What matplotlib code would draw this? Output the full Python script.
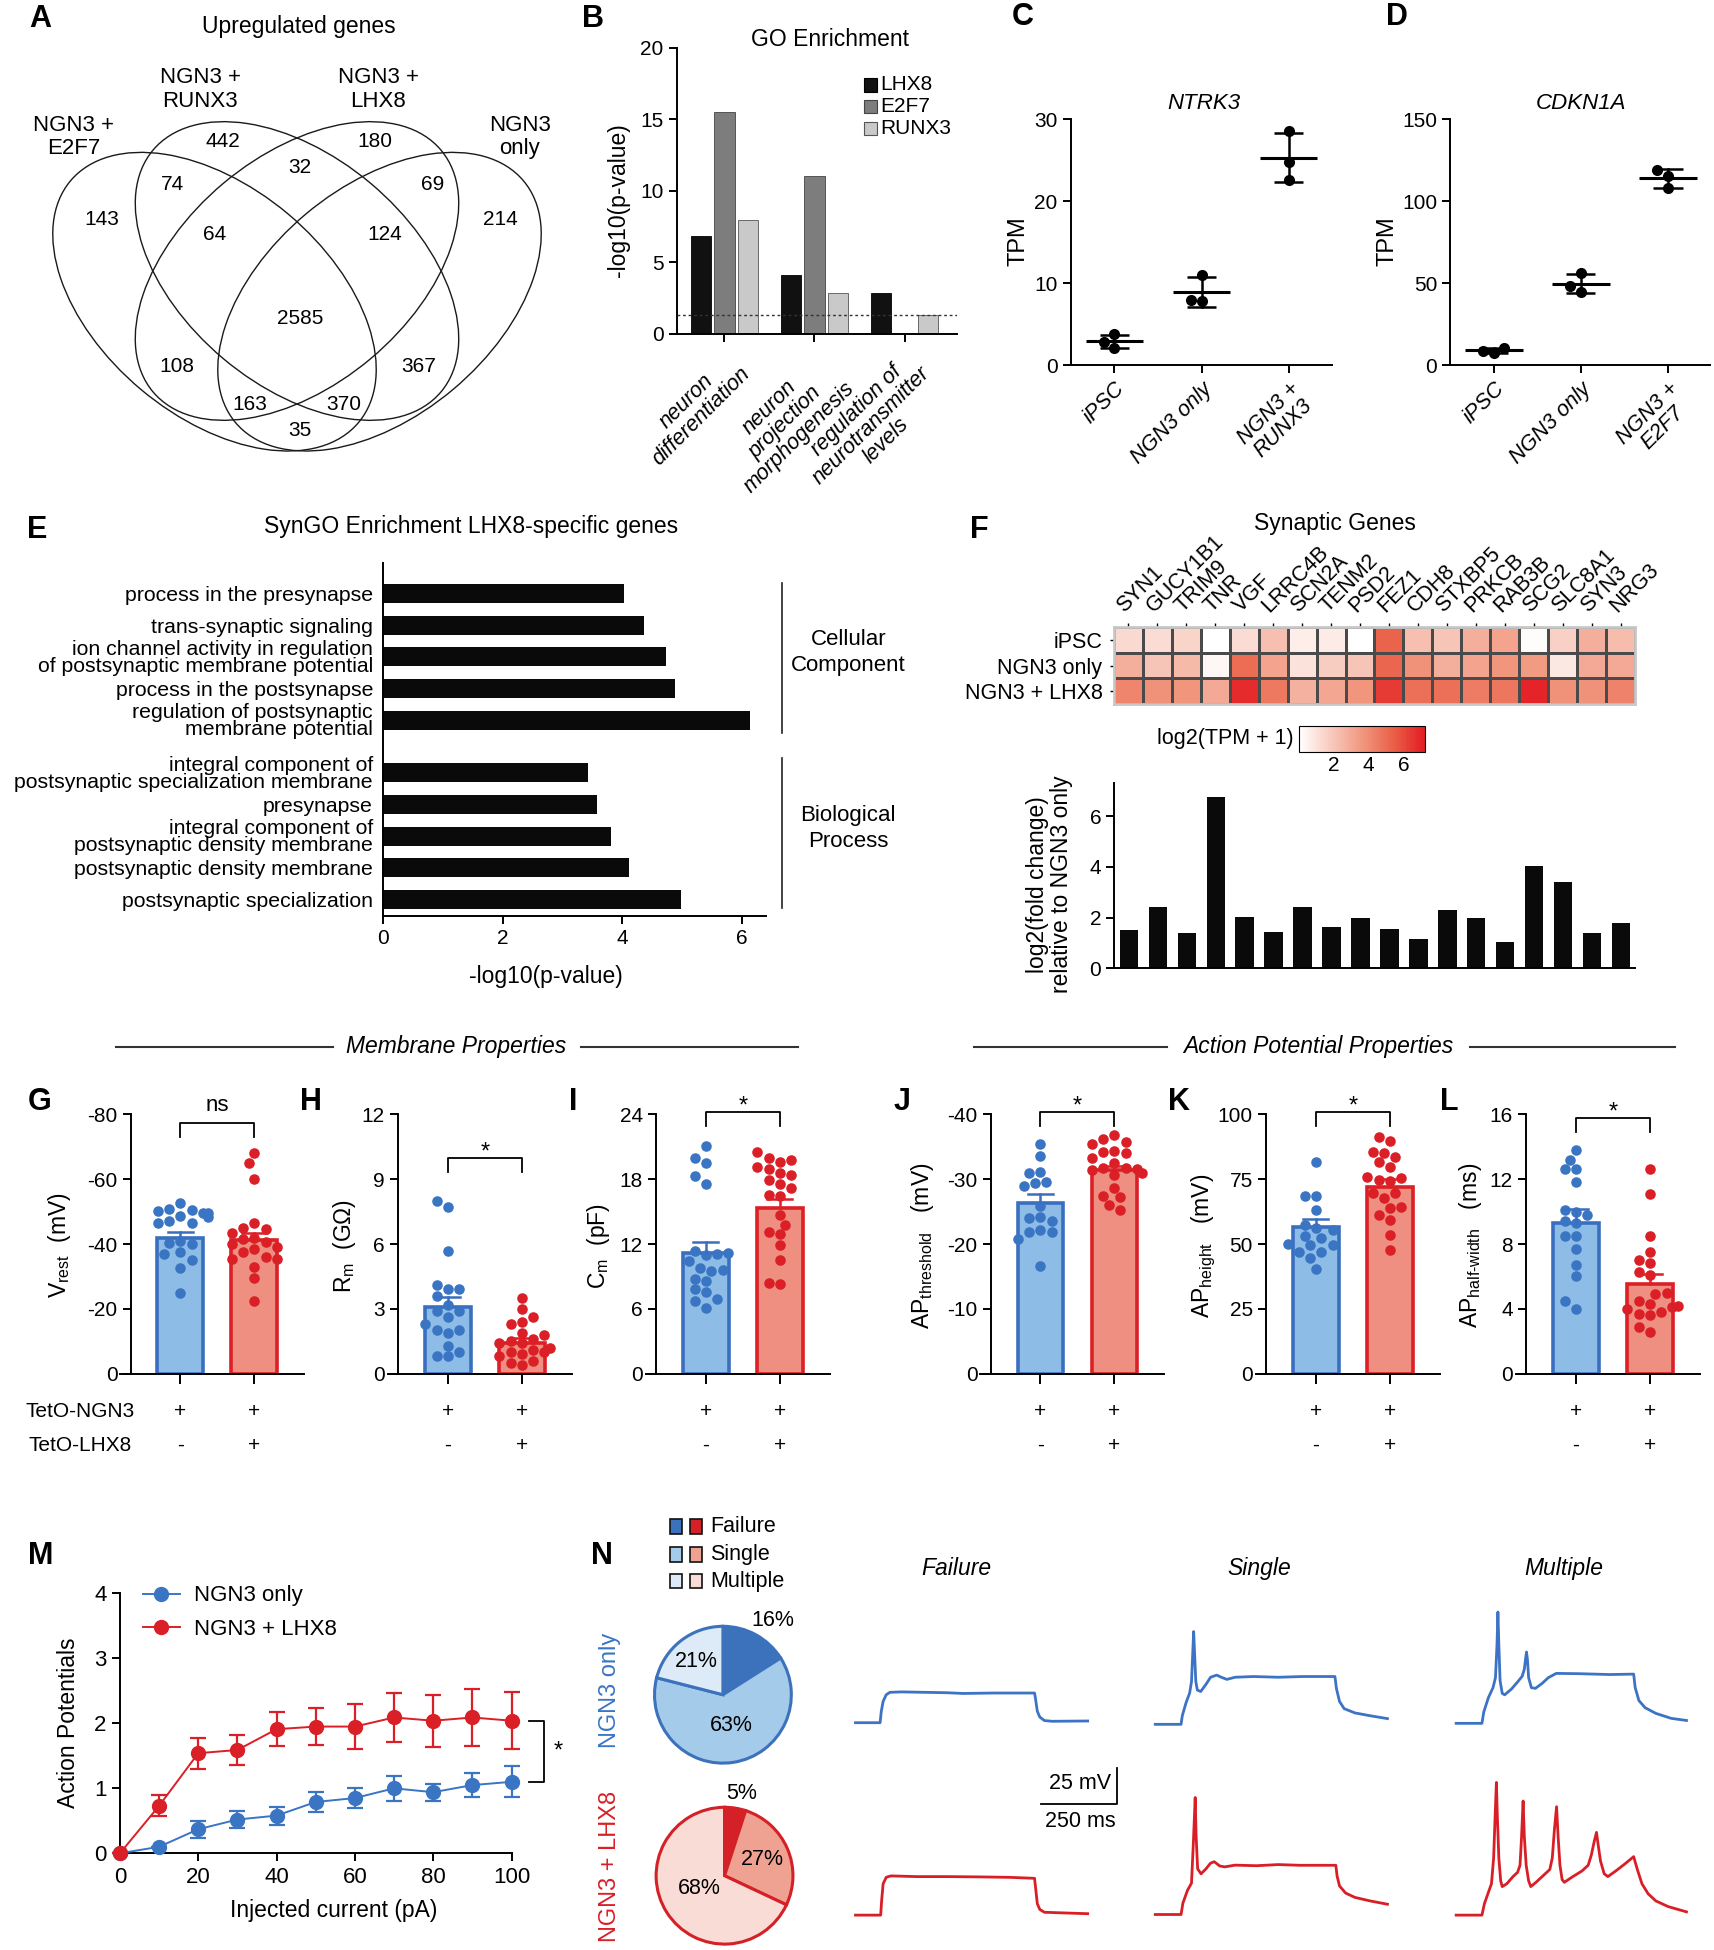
import numpy as np
import matplotlib
matplotlib.use('Agg')
import matplotlib.pyplot as plt
from matplotlib import font_manager
from matplotlib.patches import Ellipse, Rectangle
from matplotlib.lines import Line2D
from matplotlib.colors import LinearSegmentedColormap

# ---------------- data ----------------
# A: Venn of upregulated genes
venn_sets = ['NGN3 +\nE2F7', 'NGN3 +\nRUNX3', 'NGN3 +\nLHX8', 'NGN3\nonly']
venn_counts = [143, 442, 180, 214, 74, 32, 69, 64, 124, 2585, 108, 367, 163, 370, 35]

# B: GO enrichment
go_terms = ['neuron\ndifferentiation', 'neuron\nprojection\nmorphogenesis',
            'regulation of\nneurotransmitter\nlevels']
go_lhx8 = [6.87, 4.12, 2.84]
go_e2f7 = [15.53, 11.04, 0.0]
go_runx3 = [7.96, 2.84, 1.33]
go_cutoff = 1.3

# C / D: TPM, three replicates per group
ntrk3_groups = ['iPSC', 'NGN3 only', 'NGN3 +\nRUNX3']
ntrk3_tpm = [[3.74, 2.10, 2.85], [11.0, 7.8, 7.9], [28.6, 24.8, 22.6]]
cdkn1a_groups = ['iPSC', 'NGN3 only', 'NGN3 +\nE2F7']
cdkn1a_tpm = [[10.6, 8.8, 7.4], [56.0, 48.4, 44.4], [119.0, 115.2, 107.9]]

# E: SynGO enrichment
syngo_terms = ['process in the presynapse', 'trans-synaptic signaling',
               'ion channel activity in regulation\nof postsynaptic membrane potential',
               'process in the postsynapse',
               'regulation of postsynaptic\nmembrane potential',
               'integral component of\npostsynaptic specialization membrane',
               'presynapse',
               'integral component of\npostsynaptic density membrane',
               'postsynaptic density membrane', 'postsynaptic specialization']
syngo_logp = [4.03, 4.36, 4.73, 4.87, 6.13, 3.42, 3.57, 3.81, 4.11, 4.97]
syngo_category = ['Cellular\nComponent', 'Biological\nProcess']

# F: synaptic genes
syn_genes = ['SYN1', 'GUCY1B1', 'TRIM9', 'TNR', 'VGF', 'LRRC4B', 'SCN2A', 'TENM2', 'PSD2',
             'FEZ1', 'CDH8', 'STXBP5', 'PRKCB', 'RAB3B', 'SCG2', 'SLC8A1', 'SYN3', 'NRG3']
syn_rows = ['iPSC', 'NGN3 only', 'NGN3 + LHX8']
expr_ipsc = [1.3, 1.2, 1.5, 0.0, 1.2, 2.2, 0.6, 0.7, 0.0, 5.3, 2.2, 2.0, 2.8, 3.2, 0.1, 1.6, 2.8, 2.3]
expr_ngn3 = [2.8, 2.0, 2.4, 0.3, 5.0, 3.2, 1.0, 1.7, 2.0, 5.2, 3.8, 2.8, 3.2, 3.7, 3.5, 0.8, 3.0, 3.0]
expr_lhx8 = [4.2, 3.8, 3.7, 3.0, 6.8, 4.6, 2.7, 3.1, 3.7, 6.4, 4.9, 4.9, 4.5, 4.7, 7.0, 3.8, 3.8, 4.3]
fold_change = [1.51, 2.43, 1.38, 6.76, 2.01, 1.43, 2.43, 1.64, 1.97, 1.55, 1.16, 2.30, 1.98,
               1.04, 4.04, 3.39, 1.38, 1.77]

# G-L: patch clamp, NGN3 only (blue) vs NGN3 + LHX8 (red)
vrest_ngn3 = [-52.5, -50.8, -50.5, -50.2, -49.7, -49.5, -48.5, -48.2, -47.0, -46.5, -46.5,
              -41.0, -40.2, -40.0, -37.5, -37.0, -35.0, -32.5, -25.0]
vrest_lhx8 = [-68.0, -65.0, -60.0, -46.5, -45.0, -44.5, -43.5, -42.0, -41.5, -40.5, -40.0,
              -39.0, -38.5, -37.5, -36.0, -35.5, -35.5, -33.0, -29.5, -22.5]
rm_ngn3 = [8.0, 7.7, 5.7, 4.1, 3.9, 3.9, 3.6, 3.2, 2.9, 2.9, 2.6, 2.3, 2.0, 1.9, 2.0, 1.0, 0.8,
           0.8, 1.3]
rm_lhx8 = [3.5, 3.0, 2.6, 2.4, 2.3, 1.9, 1.8, 1.6, 1.5, 1.4, 1.4, 1.2, 1.1, 1.0, 1.0, 0.9, 0.8,
           0.6, 0.5, 0.4]
cm_ngn3 = [21.1, 20.0, 19.5, 18.3, 17.6, 11.4, 11.2, 11.1, 11.0, 10.4, 9.8, 9.6, 9.5, 8.8, 8.6,
           7.8, 7.6, 6.9, 6.7, 6.1]
cm_lhx8 = [20.5, 20.0, 19.8, 19.6, 19.1, 18.9, 18.6, 18.4, 17.9, 17.6, 17.2, 16.5, 16.4, 14.7,
           13.8, 13.1, 12.9, 11.9, 10.5, 8.4, 8.3]
thr_ngn3 = [-35.4, -33.6, -31.1, -30.9, -29.6, -29.4, -29.0, -25.9, -24.2, -24.0, -23.6, -22.1,
            -21.9, -21.8, -20.7, -16.6]
thr_lhx8 = [-36.8, -36.2, -35.8, -35.5, -34.3, -34.2, -34.0, -33.2, -32.5, -31.8, -31.7, -31.6,
            -31.4, -31.0, -30.6, -28.7, -27.4, -27.2, -26.0, -25.2]
height_ngn3 = [81.5, 68.5, 68.4, 63.3, 57.5, 56.0, 55.5, 53.0, 52.5, 50.0, 49.8, 49.5, 47.0,
               46.8, 44.5, 40.4]
height_lhx8 = [91.4, 89.7, 85.6, 85.2, 83.4, 81.7, 79.6, 75.7, 75.4, 74.8, 74.4, 69.7, 69.5,
               67.6, 64.2, 63.8, 61.2, 59.3, 53.5, 47.7]
hw_ngn3 = [13.8, 13.2, 12.6, 12.6, 11.8, 10.1, 10.0, 9.8, 9.4, 9.3, 8.5, 8.5, 7.7, 6.7, 6.0,
           4.5, 4.0]
hw_lhx8 = [12.6, 11.1, 8.5, 7.5, 7.0, 6.8, 6.3, 6.1, 5.0, 4.9, 4.5, 4.3, 4.2, 4.1, 4.0, 3.8,
           3.7, 3.6, 2.9, 2.6]
# bar heights (mean) and SEM as drawn
ephys_mean = {'G': (-41.9, -41.2), 'H': (3.10, 1.40), 'I': (11.14, 15.30),
              'J': (-26.4, -31.4), 'K': (56.7, 71.9), 'L': (9.27, 5.51)}
ephys_sem = {'G': (1.95, 2.3), 'H': (0.46, 0.23), 'I': (1.08, 0.83),
             'J': (1.34, 0.6), 'K': (2.8, 3.1), 'L': (0.86, 0.62)}
ephys_sig = {'G': 'ns', 'H': '*', 'I': '*', 'J': '*', 'K': '*', 'L': '*'}
teto_ngn3 = ['+', '+']
teto_lhx8 = ['-', '+']

# M: action potentials vs injected current (mean, SEM)
current_pA = [0, 10, 20, 30, 40, 50, 60, 70, 80, 90, 100]
ap_ngn3 = [0.0, 0.10, 0.37, 0.52, 0.58, 0.79, 0.85, 1.00, 0.94, 1.05, 1.10]
ap_ngn3_sem = [0.0, 0.0, 0.13, 0.13, 0.14, 0.15, 0.15, 0.19, 0.13, 0.19, 0.24]
ap_lhx8 = [0.0, 0.73, 1.54, 1.59, 1.91, 1.95, 1.95, 2.09, 2.04, 2.09, 2.04]
ap_lhx8_sem = [0.0, 0.16, 0.24, 0.23, 0.26, 0.29, 0.34, 0.38, 0.40, 0.44, 0.44]

# N: firing categories (%) and example traces (ms, mV above baseline)
fire_classes = ['Failure', 'Single', 'Multiple']
fire_ngn3 = [16, 63, 21]
fire_lhx8 = [5, 27, 68]
trace_fail_ngn3 = [(0, 0), (80, 0), (84, 8), (90, 15), (100, 19.6), (112, 21.3), (150, 21.6),
                   (300, 21.0), (350, 20.5), (450, 20.8), (583, 20.8), (586, 17), (592, 8),
                   (600, 4), (615, 1.5), (640, 1.0), (756, 1.2)]
trace_single_ngn3 = [(0, 0), (84, 0), (88, 6), (100, 15), (112, 22), (118, 30), (122, 50),
                     (125, 65), (128, 50), (132, 30), (137, 24), (148, 23), (165, 28),
                     (180, 33), (200, 34.5), (215, 33), (233, 31.5), (260, 33), (320, 33.5),
                     (400, 33), (480, 33.5), (585, 33.5), (590, 25), (600, 16), (615, 11),
                     (650, 8), (700, 6), (756, 4)]
trace_multi_ngn3 = [(0, 0), (84, 0), (90, 8), (105, 18), (120, 25), (128, 32), (133, 55),
                    (136, 78), (139, 55), (143, 30), (150, 21), (158, 20), (180, 24),
                    (200, 29), (215, 33), (222, 38), (226, 45), (229, 50), (232, 45),
                    (236, 32), (245, 25), (258, 24.5), (280, 28), (300, 32), (326, 35),
                    (400, 34.8), (500, 34.2), (578, 34.5), (583, 25), (595, 16), (615, 11),
                    (650, 7), (700, 3.5), (750, 2)]
trace_fail_lhx8 = [(0, 0), (82, 0), (85, 10), (90, 22), (100, 26.5), (115, 27.5), (200, 27.0),
                   (300, 27.0), (400, 26.8), (500, 26.5), (583, 25.8), (586, 20), (592, 8),
                   (600, 4), (615, 2), (756, 1)]
trace_single_lhx8 = [(0, 0), (84, 0), (90, 8), (105, 17), (118, 22), (124, 50), (130, 82),
                     (133, 55), (138, 32), (149, 28.5), (165, 32), (180, 36), (192, 37),
                     (210, 34), (226, 33.4), (260, 34.6), (330, 34.2), (400, 35), (470, 34.5),
                     (588, 34.5), (592, 27), (600, 20), (620, 15), (650, 12), (700, 9.5),
                     (756, 7.2)]
trace_multi_lhx8 = [(0, 0), (84, 0), (92, 8), (105, 16), (115, 22), (122, 40), (127, 70),
                    (131, 93), (134, 70), (139, 40), (145, 24), (150, 20), (165, 22),
                    (185, 27), (200, 30), (208, 35), (213, 55), (218, 80), (222, 55),
                    (228, 35), (236, 24), (243, 20), (260, 23), (285, 28), (305, 32),
                    (313, 40), (320, 60), (327, 76), (332, 55), (338, 35), (345, 25),
                    (352, 23), (380, 27), (410, 31), (430, 35), (440, 42), (450, 52),
                    (457, 58), (462, 50), (470, 38), (482, 29), (494, 27), (520, 31),
                    (550, 36), (578, 41), (590, 32), (605, 22), (625, 15), (650, 10),
                    (690, 6), (750, 2.3)]
scale_ms, scale_mv = 250, 25

# ---------------- style ----------------
names = {f.name for f in font_manager.fontManager.ttflist}
REG = 'Liberation Sans' if 'Liberation Sans' in names else 'DejaVu Sans'
plt.rcParams.update({
    'font.size': 15, 'axes.linewidth': 1.4, 'axes.unicode_minus': False,
    'xtick.major.width': 1.4, 'ytick.major.width': 1.4,
    'xtick.major.size': 6, 'ytick.major.size': 6,
    'xtick.labelsize': 15, 'ytick.labelsize': 15,
    'mathtext.fontset': 'custom', 'mathtext.rm': REG,
    'mathtext.it': REG + ':italic', 'mathtext.bf': REG + ':bold',
})
plt.rcParams['font.family'] = [REG, 'DejaVu Sans']

BLUE = '#3a75c4'
BLUE_EDGE = '#3a6fbf'
BLUE_BAR = '#8dbce6'
RED = '#da1f26'
RED_EDGE = '#dd1f26'
RED_BAR = '#ee8f82'

W, H = 1714, 1950
S = W / 1378.0   # positions below were measured on a 1378 px wide copy

fig = plt.figure(figsize=(W / 100, H / 100), dpi=100)


def box(x0, y0, x1, y1):
    return [x0 * S / W, 1 - y1 * S / H, (x1 - x0) * S / W, (y1 - y0) * S / H]


def put(x, y, s, **kw):
    kw.setdefault('ha', 'center')
    kw.setdefault('va', 'center')
    return fig.text(x * S / W, 1 - y * S / H, s, **kw)


def fline(xs, ys, **kw):
    fig.add_artist(Line2D([x * S / W for x in xs], [1 - y * S / H for y in ys],
                          transform=fig.transFigure, **kw))


def frect(x, y, w, h, **kw):
    fig.add_artist(Rectangle((x * S / W, 1 - (y + h) * S / H), w * S / W, h * S / H,
                             transform=fig.transFigure, **kw))


def swarm(vals, ppu_y, ppu_x, diam, max_half):
    # simple deterministic beeswarm, computed in screen pixels
    ys = np.asarray(vals, float) * ppu_y
    steps = np.arange(0, max_half + 1e-6, diam * 0.5)
    cands = sorted(set(list(steps) + list(-steps)), key=lambda c: (abs(c), c))
    offs = np.zeros(len(ys))
    placed = []
    for i in np.argsort(ys):
        for c in cands:
            if all((c - px) ** 2 + (ys[i] - py) ** 2 >= (0.95 * diam) ** 2 for px, py in placed):
                offs[i] = c
                break
        else:
            offs[i] = cands[-1]
        placed.append((offs[i], ys[i]))
    return offs / ppu_x


def clean(ax):
    ax.spines['top'].set_visible(False)
    ax.spines['right'].set_visible(False)


# panel letters
for letter, lx, ly in [('A', 32, 15), ('B', 477, 15), ('C', 822, 14), ('D', 1123, 14),
                       ('E', 30, 426), ('F', 787, 426), ('G', 32, 886), ('H', 250, 886),
                       ('I', 461, 886), ('J', 725, 886), ('K', 948, 886), ('L', 1165, 886),
                       ('M', 33, 1251), ('N', 484, 1251)]:
    put(lx, ly, letter, fontsize=22, fontweight='bold')

# ---------------- A: Venn ----------------
axv = fig.add_axes([0, 1 - 500 / H, 600 / W, 460 / H])
axv.set_xlim(0, 600)
axv.set_ylim(500, 40)
axv.axis('off')
for (cx, cy), ang in [((214.5, 301.7), 40), ((297, 271), 40), ((297, 271), -40),
                      ((379.5, 301.7), -40)]:
    axv.add_patch(Ellipse((cx, cy), 376, 229, angle=ang, fill=False, lw=1.0, ec='#1a1a1a'))
venn_xy = [(102, 220), (223, 142), (375, 142), (500, 220), (173, 185), (300, 168), (433, 185),
           (215, 235), (385, 235), (300, 318), (177, 367), (419, 367), (250, 405), (344, 405),
           (300, 430)]
for n, (tx, ty) in zip(venn_counts, venn_xy):
    axv.text(tx, ty, str(n), ha='center', va='center', fontsize=15)
for lab, (tx, ty) in zip(venn_sets, [(59, 110), (161, 72), (304, 72), (418, 110)]):
    put(tx, ty, lab, fontsize=16, linespacing=1.15)
put(240, 21, 'Upregulated genes', fontsize=16.5)

# ---------------- B: GO enrichment ----------------
axb = fig.add_axes(box(544.2, 38.3, 769.4, 268.5))
clean(axb)
gx = np.arange(len(go_terms))
bw = 0.224
axb.bar(gx - 0.258, go_lhx8, bw, color='#111111', ec='#000000', lw=0.6, zorder=2)
axb.bar(gx, go_e2f7, bw, color='#7d7d7d', ec='#444444', lw=0.6, zorder=2)
axb.bar(gx + 0.258, go_runx3, bw, color='#c9c9c9', ec='#555555', lw=0.6, zorder=2)
axb.axhline(go_cutoff, color='#333333', lw=1.0, ls=(0, (2, 2)), zorder=3)
axb.set_xlim(-0.528, 2.583)
axb.set_ylim(0, 20)
axb.set_yticks([0, 5, 10, 15, 20])
axb.set_xticks(gx)
axb.set_xticklabels(go_terms, rotation=45, ha='right', va='top', rotation_mode='anchor',
                    style='italic', fontsize=15.5, multialignment='center', linespacing=1.0)
axb.tick_params(axis='x', pad=4)
put(497, 161, '-log10(p-value)', rotation=90, fontsize=16.5)
put(667, 32, 'GO Enrichment', fontsize=16.5)
for lab, col, ec, ry in [('LHX8', '#111111', '#000000', 68.3), ('E2F7', '#7d7d7d', '#444444', 85.7),
                         ('RUNX3', '#c9c9c9', '#555555', 103.2)]:
    frect(695, ry - 5.5, 10, 11, fc=col, ec=ec, lw=0.8)
    put(708, ry, lab, ha='left', fontsize=15)

# ---------------- C / D: TPM dot plots ----------------
for groups, reps, title, (ax0, ax1), ymax, yt, tx, ylx in [
        (ntrk3_groups, ntrk3_tpm, 'NTRK3', (861, 1071), 30, [0, 10, 20, 30], 968, 818.5),
        (cdkn1a_groups, cdkn1a_tpm, 'CDKN1A', (1166, 1375), 150, [0, 50, 100, 150], 1271, 1115.6)]:
    ax = fig.add_axes(box(ax0, 96, ax1, 293.5))
    clean(ax)
    ax.set_xlim(-0.5, (ax1 - ax0) / 70 - 0.5)
    ax.set_ylim(0, ymax)
    ax.set_yticks(yt)
    ax.set_xticks(range(3))
    ax.set_xticklabels(groups, rotation=45, ha='right', va='top', rotation_mode='anchor',
                       style='italic', fontsize=15.5, multialignment='center', linespacing=1.0)
    ppu_y = 197.5 / ymax
    for i, r in enumerate(reps):
        r = np.asarray(r)
        m, sd = r.mean(), r.std(ddof=1)
        ax.plot([i - 0.33, i + 0.33], [m, m], color='k', lw=2.2, zorder=3, solid_capstyle='butt')
        ax.plot([i, i], [m - sd, m + sd], color='k', lw=1.8, zorder=3)
        for v in (m - sd, m + sd):
            ax.plot([i - 0.167, i + 0.167], [v, v], color='k', lw=1.8, zorder=3,
                    solid_capstyle='butt')
        offs = swarm(r, ppu_y, 70, 8.5, 20)
        ax.plot(i + offs, r, 'o', color='k', ms=8, mec='none', zorder=4, clip_on=False)
    put(tx, 83, title, style='italic', fontsize=16)
    put(ylx, 193.5, 'TPM', rotation=90, fontsize=17)

# ---------------- E: SynGO ----------------
axe = fig.add_axes(box(307.7, 452.4, 616, 736.5))
axe.spines['top'].set_visible(False)
axe.spines['right'].set_visible(False)
ey = np.r_[np.arange(5), np.arange(5) + 5.66]
axe.barh(ey, syngo_logp, height=0.6, color='#0a0a0a', zorder=2)
axe.set_ylim(10.18, -0.965)
axe.set_xlim(0, 6.4)
axe.set_xticks([0, 2, 4, 6])
axe.set_yticks(ey)
axe.set_yticklabels(syngo_terms, fontsize=15.3, linespacing=0.88)
axe.tick_params(axis='y', length=0, pad=7)
for (y0, y1), lab, ly in zip([(-0.31, 4.42), (5.2, 9.93)], syngo_category, [524.5, 666]):
    axe.plot([6.67, 6.67], [y0, y1], color='#222222', lw=1.2, clip_on=False)
    put(682, ly, lab, fontsize=16, linespacing=1.3)
put(379, 423, 'SynGO Enrichment LHX8-specific genes', fontsize=16.5)
put(439, 785, '-log10(p-value)', fontsize=16.5)

# ---------------- F: synaptic genes ----------------
heat_cmap = LinearSegmentedColormap.from_list(
    'wr', ['#ffffff', '#f8cabd', '#f1977f', '#ea5f47', '#e31b23'])
axh = fig.add_axes(box(895.3, 504.4, 1314.8, 566))
mat = np.array([expr_ipsc, expr_ngn3, expr_lhx8])
mesh = axh.pcolormesh(mat, cmap=heat_cmap, vmin=0, vmax=7.25, edgecolors='#4a4a4a', lw=0.8)
axh.set_xlim(0, len(syn_genes))
axh.set_ylim(3, 0)
axh.xaxis.tick_top()
axh.set_xticks(np.arange(len(syn_genes)) + 0.5)
axh.set_xticklabels(syn_genes, rotation=45, ha='left', va='bottom', rotation_mode='anchor',
                    fontsize=15.5)
axh.set_yticks([0.5, 1.5, 2.5])
axh.set_yticklabels(syn_rows, fontsize=15.5)
axh.tick_params(length=3, width=1.0, pad=5)
for sp in axh.spines.values():
    sp.set_color('#c8c8c8')
    sp.set_linewidth(2)
put(1073, 421, 'Synaptic Genes', fontsize=16.5)

cax = fig.add_axes(box(1044.6, 583.7, 1145.8, 604.3))
cb = fig.colorbar(mesh, cax=cax, orientation='horizontal', ticks=[2, 4, 6])
cb.outline.set_linewidth(0.8)
cax.tick_params(length=0, labelsize=15, pad=3)
put(1040, 593.6, 'log2(TPM + 1)', ha='right', fontsize=15.5)

axf = fig.add_axes(box(896, 629.8, 1314.8, 778.5))
clean(axf)
axf.bar(np.arange(len(fold_change)) + 0.5, fold_change, width=0.64, color='#0a0a0a', zorder=2)
axf.set_xlim(0, len(fold_change))
axf.set_ylim(0, 7.3)
axf.set_yticks([0, 2, 4, 6])
axf.set_xticks([])
put(844, 711, 'log2(fold change)\nrelative to NGN3 only', rotation=90, fontsize=16.5,
    linespacing=1.05)

# ---------------- section headers ----------------
for xs in [(92.9, 267.5), (467, 641.6), (782.9, 938.4), (1181.9, 1346.7)]:
    fline(xs, (841.5, 841.5), color='#333333', lw=1.5)
put(367, 841.5, 'Membrane Properties', style='italic', fontsize=16.5)
put(1060, 841.5, 'Action Potential Properties', style='italic', fontsize=16.5)

# ---------------- G-L: bar + dot panels ----------------
ephys = [('G', vrest_ngn3, vrest_lhx8), ('H', rm_ngn3, rm_lhx8), ('I', cm_ngn3, cm_lhx8),
         ('J', thr_ngn3, thr_lhx8), ('K', height_ngn3, height_lhx8), ('L', hw_ngn3, hw_lhx8)]
ephys_layout = {
    'G': dict(xa=105, ylim=-80, ticks=[0, -20, -40, -60, -80], br=(-77.2, -73.1), lx=48,
              lab=r'$\mathrm{V}_{\text{rest}}$  (mV)'),
    'H': dict(xa=320, ylim=12, ticks=[0, 3, 6, 9, 12], br=(9.96, 9.35), lx=277,
              lab=r'$\mathrm{R}_{\text{m}}$  (G$\Omega$)'),
    'I': dict(xa=527.4, ylim=24, ticks=[0, 6, 12, 18, 24], br=(24.18, 22.95), lx=481,
              lab=r'$\mathrm{C}_{\text{m}}$  (pF)'),
    'J': dict(xa=796.5, ylim=-40, ticks=[0, -10, -20, -30, -40], br=(-40.3, -38.25), lx=742,
              lab=r'$\mathrm{AP}_{\text{threshold}}$   (mV)'),
    'K': dict(xa=1017.9, ylim=100, ticks=[0, 25, 50, 75, 100], br=(100.8, 95.6), lx=967.6,
              lab=r'$\mathrm{AP}_{\text{height}}$   (mV)'),
    'L': dict(xa=1226.9, ylim=16, ticks=[0, 4, 8, 12, 16], br=(15.75, 14.93), lx=1182.6,
              lab=r'$\mathrm{AP}_{\text{half-width}}$   (ms)'),
}
for key, v_b, v_r in ephys:
    lay = ephys_layout[key]
    xa = lay['xa']
    ax = fig.add_axes(box(xa - 8.4, 895.9, xa + 139.5, 1104.4))
    clean(ax)
    ax.set_xlim(-48.4 / 59.5, 99.5 / 59.5)
    ax.set_ylim(0, lay['ylim'])
    ax.spines['left'].set_position(('data', -40 / 59.5))
    ax.set_yticks(lay['ticks'])
    ax.set_xticks([0, 1])
    ax.set_xticklabels([])
    ax.tick_params(axis='x', length=7)
    mb, mr = ephys_mean[key]
    sb, sr = ephys_sem[key]
    ax.bar([0, 1], [mb, mr], width=0.62, color=[BLUE_BAR, RED_BAR],
           edgecolor=[BLUE_EDGE, RED_EDGE], linewidth=2.6, zorder=2)
    ppu_y = 208.5 / abs(lay['ylim'])
    for xi, vals, m, s, col, ecol in [(0, v_b, mb, sb, BLUE, BLUE_EDGE),
                                      (1, v_r, mr, sr, RED, RED_EDGE)]:
        offs = swarm(vals, ppu_y, 59.5, 9.0, 26)
        ax.plot(xi + offs, vals, 'o', color=col, ms=7.6, mec='none', zorder=4, clip_on=False)
        top = m + np.sign(m) * s
        ax.plot([xi, xi], [m, top], color=ecol, lw=1.8, zorder=5)
        ax.plot([xi - 0.17, xi + 0.17], [top, top], color=ecol, lw=1.8, zorder=5)
    btop, bend = lay['br']
    ax.plot([0, 0, 1, 1], [bend, btop, btop, bend], color='k', lw=1.3, clip_on=False)
    sig = ephys_sig[key]
    ax.annotate(sig, (0.5, btop), xytext=(0, 9 if sig == 'ns' else 0),
                textcoords='offset points', ha='center', va='baseline',
                fontsize=16 if sig == 'ns' else 17, annotation_clip=False)
    put(lay['lx'], 1001.5, lay['lab'], rotation=90, fontsize=16.5)
    for xi, s1, s2 in zip((xa + 40, xa + 99.5), teto_ngn3, teto_lhx8):
        put(xi, 1134.4, s1, fontsize=15)
        put(xi, 1161.8, s2, fontsize=15)
put(64.3, 1134.4, 'TetO-NGN3', fontsize=15)
put(64.3, 1161.8, 'TetO-LHX8', fontsize=15)

# ---------------- M: AP count ----------------
axm = fig.add_axes(box(96.4, 1281, 411.3, 1490))
clean(axm)
for ys, es, col in [(ap_ngn3, ap_ngn3_sem, BLUE), (ap_lhx8, ap_lhx8_sem, RED)]:
    cont = axm.errorbar(current_pA, ys, yerr=es, color=col, marker='o', ms=10, lw=1.4,
                        elinewidth=1.6, capsize=6, capthick=1.6, zorder=3)
    cont.lines[0].set_clip_on(False)
    for art in list(cont.lines[1]) + list(cont.lines[2]):
        art.set_clip_on(False)
axm.set_xlim(0, 100)
axm.set_ylim(0, 4)
axm.set_xticks([0, 20, 40, 60, 80, 100])
axm.set_yticks([0, 1, 2, 3, 4])
axm.tick_params(labelsize=16)
axm.legend(handles=[Line2D([], [], color=BLUE, marker='o', ms=10, lw=1.4),
                    Line2D([], [], color=RED, marker='o', ms=10, lw=1.4)],
           labels=['NGN3 only', 'NGN3 + LHX8'], loc='upper left', frameon=False,
           bbox_to_anchor=(0.035, 1.065), fontsize=16, handlelength=1.7, handletextpad=0.6,
           labelspacing=0.55, borderaxespad=0)
axm.plot([104.5, 108.2, 108.2, 104.5], [ap_lhx8[-1], ap_lhx8[-1], ap_ngn3[-1], ap_ngn3[-1]],
         color='k', lw=1.3, clip_on=False)
axm.text(111.8, (ap_lhx8[-1] + ap_ngn3[-1]) / 2, '*', ha='center', va='center', fontsize=17)
put(55, 1385, 'Action Potentials', rotation=90, fontsize=16.5)
put(268.4, 1535.6, 'Injected current (pA)', fontsize=16.5)

# ---------------- N: pies, legend and traces ----------------
pie_blue = ['#3c72bc', '#a5cbeb', '#ddebf8']
pie_red = ['#d42027', '#efa292', '#fadcd6']
for lab, cb_, cr_, ry in zip(fire_classes, pie_blue, pie_red, [1227.4, 1249.4, 1271.1]):
    frect(538.9, ry - 6, 9.4, 12, fc=cb_, ec='#111111', lw=1.2)
    frect(554.9, ry - 6, 9.4, 12, fc=cr_, ec='#111111', lw=1.2)
    put(570.7, ry, lab, ha='left', fontsize=15.5)

r = 55 * 1.05
for fr, cols, edge, (cx, cy), pct_xy in [
        (fire_ngn3, pie_blue, '#3c72bc', (581.2, 1362.5), [(621.4, 1302.5), (587.6, 1386.9), (560, 1336)]),
        (fire_lhx8, pie_red, '#d42027', (582.5, 1508), [(596, 1441.8), (612.9, 1494.6), (562.2, 1518.2)])]:
    axp = fig.add_axes(box(cx - r, cy - r, cx + r, cy + r))
    axp.pie(fr, colors=cols, startangle=90, counterclock=False,
            wedgeprops=dict(edgecolor=edge, linewidth=2.2))
    axp.set_xlim(-1.05, 1.05)
    axp.set_ylim(-1.05, 1.05)
    for v, (px, py) in zip(fr, pct_xy):
        put(px, py, f'{v}%', fontsize=15.5)
put(490.3, 1358.8, 'NGN3 only', rotation=90, color=BLUE, fontsize=17)
put(490.3, 1500.8, 'NGN3 + LHX8', rotation=90, color=RED, fontsize=17)

MS_PX, MV_PX = 0.2469, 1.147   # reference px per ms and per mV
trace_axes = {}
for key, tr, col, x0, base in [
        ('fail_b', trace_fail_ngn3, '#3c73c4', 687.8, 1385.0),
        ('single_b', trace_single_ngn3, '#3c73c4', 928.8, 1386.3),
        ('multi_b', trace_multi_ngn3, '#3c73c4', 1170.7, 1385.5),
        ('fail_r', trace_fail_lhx8, '#d91e26', 687.8, 1539.7),
        ('single_r', trace_single_lhx8, '#d91e26', 928.8, 1539.2),
        ('multi_r', trace_multi_lhx8, '#d91e26', 1170.7, 1539.7)]:
    axt = fig.add_axes(box(x0, base - 100 * MV_PX, x0 + 800 * MS_PX, base + 5 * MV_PX))
    axt.set_xlim(0, 800)
    axt.set_ylim(-5, 100)
    axt.axis('off')
    t, mv = zip(*tr)
    axt.plot(t, mv, color=col, lw=2.0, clip_on=False, solid_joinstyle='round')
    trace_axes[key] = axt

# scale bar, drawn in the data units of the red "failure" trace
axs = trace_axes['fail_r']
sb_x1, sb_y0 = 852.7, 77.9
axs.plot([sb_x1 - scale_ms, sb_x1, sb_x1], [sb_y0, sb_y0, sb_y0 + scale_mv], color='k', lw=1.3,
         clip_on=False)
put(893, 1433.8, f'{scale_mv} mV', ha='right', fontsize=15.5)
put(868.9, 1464.6, f'{scale_ms} ms', fontsize=15.5)
for lab, tx in zip(fire_classes, [768.5, 1012.6, 1256.9]):
    put(tx, 1261, lab, style='italic', fontsize=16.5)

fig.savefig('out.png', dpi=100, facecolor='white')
